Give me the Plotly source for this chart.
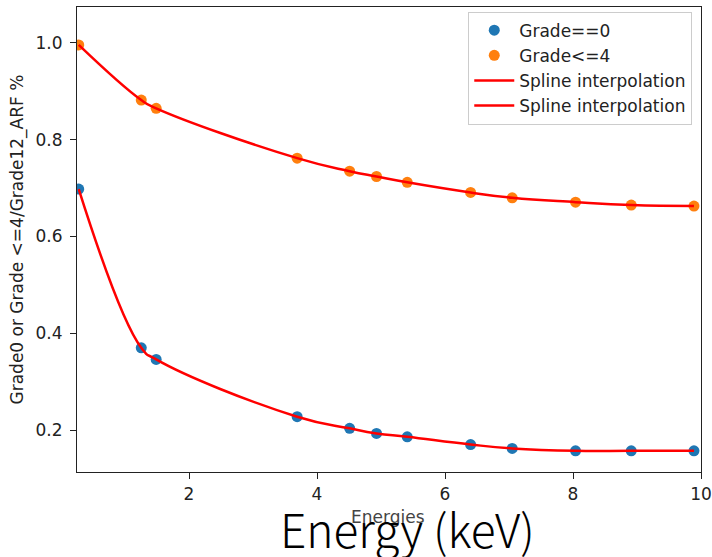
import plotly.graph_objects as go

energies = [0.277, 1.254, 1.487, 3.69, 4.51, 4.93, 5.41, 6.40, 7.05, 8.04, 8.91, 9.89]
grade0 = [0.698, 0.370, 0.346, 0.2275, 0.2035, 0.193, 0.186, 0.170, 0.162, 0.157, 0.157, 0.157]
grade4 = [0.996, 0.882, 0.865, 0.762, 0.735, 0.724, 0.712, 0.691, 0.680, 0.671, 0.665, 0.663]
x_ticks = [2, 4, 6, 8, 10]
y_ticks = [0.2, 0.4, 0.6, 0.8, 1.0]

FONT = "DejaVu Sans"
fig = go.Figure()
fig.add_trace(go.Scatter(x=energies, y=grade0, mode="markers", name="Grade==0",
                         marker=dict(color="#1f77b4", size=11), legendgroup="a"))
fig.add_trace(go.Scatter(x=energies, y=grade4, mode="markers", name="Grade<=4",
                         marker=dict(color="#ff7f0e", size=11), legendgroup="b"))
fig.add_trace(go.Scatter(x=energies, y=grade0, mode="lines", name="Spline interpolation",
                         line=dict(color="red", width=2.5, shape="spline", smoothing=1.3), legendgroup="c"))
fig.add_trace(go.Scatter(x=energies, y=grade4, mode="lines", name="Spline interpolation",
                         line=dict(color="red", width=2.5, shape="spline", smoothing=1.3), legendgroup="d"))

axis_common = dict(showline=True, linecolor="#222", linewidth=1.2, mirror=True, automargin=False,
                   ticks="outside", ticklen=6, tickcolor="#222", showgrid=False, zeroline=False,
                   tickfont=dict(family=FONT, size=17, color="#222"))
fig.update_layout(
    width=712, height=557,
    margin=dict(l=77, r=11, t=7, b=85),
    paper_bgcolor="white", plot_bgcolor="white",
    font=dict(family=FONT, size=17, color="#222"),
    xaxis=dict(range=[0.25, 10], tickvals=x_ticks, ticktext=[str(v) for v in x_ticks], **axis_common),
    yaxis=dict(range=[0.1132, 1.0744], tickvals=y_ticks, ticktext=[f"{v:.1f}" for v in y_ticks],
               ticklabelstandoff=4, **axis_common),
    showlegend=True,
    legend=dict(x=0.986, y=0.99, xanchor="right", yanchor="top", bgcolor="rgba(255,255,255,0.8)",
                bordercolor="#cccccc", borderwidth=1, font=dict(family=FONT, size=17, color="#222"),
                tracegroupgap=0, traceorder="grouped", itemwidth=40),
    annotations=[
        dict(text="Grade0 or Grade <=4/Grade12_ARF %", x=-0.0946, y=0.5, xref="paper", yref="paper",
             textangle=-90, showarrow=False, font=dict(family=FONT, size=17, color="#222"),
             xanchor="center", yanchor="middle"),
        dict(text="Energies", x=(388 - 77) / 624, y=(472 - 517) / 465, xref="paper", yref="paper",
             showarrow=False, font=dict(family=FONT, size=17, color="#444"),
             xanchor="center", yanchor="middle"),
        dict(text="Energy (keV)", x=(407 - 77) / 624, y=(472 - 528) / 465, xref="paper", yref="paper",
             showarrow=False, font=dict(family="Noto Sans CJK SC", size=46, color="black", weight=300),
             xanchor="center", yanchor="middle"),
    ],
)
fig.write_html("out.html", config={"displayModeBar": False},
               post_script="document.body.style.margin='0px';document.body.style.overflow='hidden';")
